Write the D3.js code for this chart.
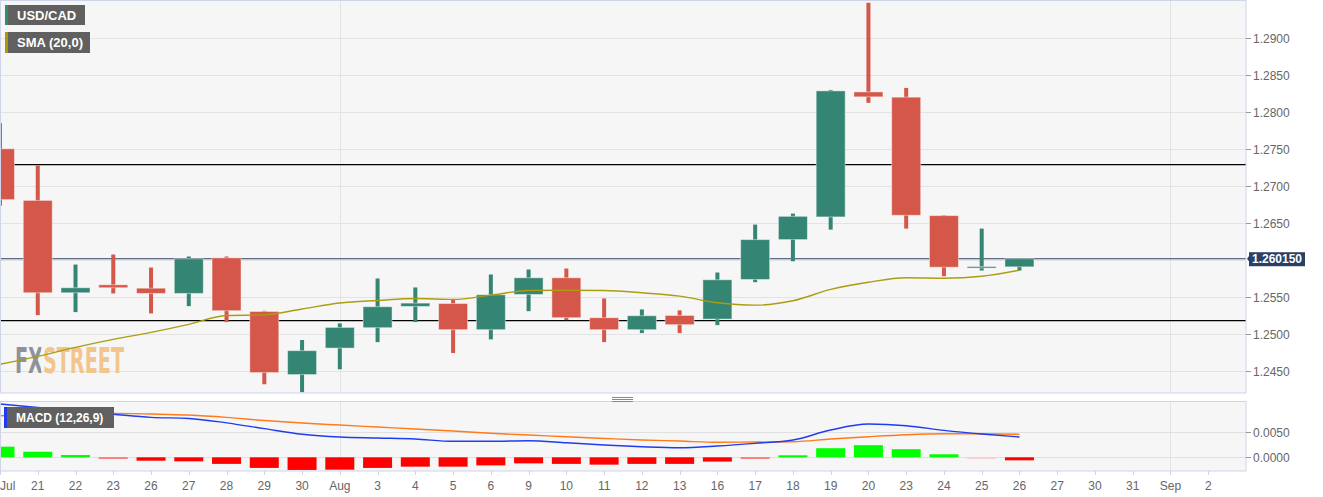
<!DOCTYPE html>
<html><head><meta charset="utf-8">
<script src="https://cdn.jsdelivr.net/npm/d3@7"></script>
<style>html,body{margin:0;padding:0;background:#fff;}svg{display:block;font-family:"Liberation Sans",Arial,sans-serif;}</style>
</head><body><svg id="c" width="1323" height="497"></svg>
<script>
const dates = ["Jul","21","22","23","26","27","28","29","30","Aug","3","4","5","6","9","10","11","12","13","16","17","18","19","20","23","24","25","26","27","30","31","Sep","2"];
const openV  = [1.27504,1.26805,1.25554,1.25662,1.25616,1.25545,1.26027,1.25301,1.24446,1.24805,1.25081,1.25369,1.25409,1.25054,1.25531,1.25757,1.25216,1.25054,1.25247,1.25197,1.25734,1.26274,1.26581,1.28274,1.28203,1.26599,1.25889,1.25905];
const highV  = [1.27851,1.27278,1.25936,1.26072,1.25896,1.26045,1.26045,1.25310,1.24914,1.25139,1.25747,1.25626,1.25464,1.25801,1.25869,1.25882,1.25477,1.25328,1.25315,1.25828,1.26477,1.26626,1.28301,1.29481,1.28328,1.26605,1.26423,1.26020];
const lowV   = [1.26734,1.25251,1.25292,1.25545,1.25274,1.25373,1.25157,1.24315,1.24207,1.24518,1.24886,1.25157,1.24738,1.24923,1.25305,1.25184,1.24886,1.25008,1.25008,1.25116,1.25697,1.25981,1.26409,1.28126,1.26423,1.25778,1.25855,1.25855];
const closeV = [1.26815,1.25554,1.25622,1.25622,1.25545,1.26014,1.25311,1.24473,1.24770,1.25085,1.25365,1.25414,1.25054,1.25527,1.25757,1.25216,1.25054,1.25243,1.25122,1.25730,1.26274,1.26589,1.28288,1.28207,1.26603,1.25900,1.25909,1.26015];
const sma20  = [1.24585,1.24693,1.24815,1.24923,1.25018,1.25126,1.25247,1.25254,1.25335,1.25416,1.25450,1.25477,1.25464,1.25522,1.25585,1.25589,1.25585,1.25554,1.25508,1.25419,1.25386,1.25446,1.25599,1.25697,1.25757,1.25751,1.25778,1.25859];
const macdLine   = [0.01052,0.00983,0.00916,0.00851,0.00789,0.00768,0.00681,0.00566,0.00456,0.00401,0.00381,0.00361,0.00316,0.00316,0.00328,0.00288,0.00243,0.00209,0.00189,0.00223,0.00276,0.00341,0.00539,0.00657,0.00624,0.00533,0.00460,0.00401];
const signalLine = [0.00821,0.00845,0.00868,0.00868,0.00855,0.00835,0.00789,0.00726,0.00677,0.00637,0.00598,0.00559,0.00519,0.00474,0.00440,0.00407,0.00373,0.00341,0.00322,0.00296,0.00302,0.00308,0.00361,0.00407,0.00446,0.00466,0.00466,0.00454];
const histV  = [0.0021,0.0011,0.00045,-0.0002,-0.00067,-0.0008,-0.0013,-0.0021,-0.0025,-0.00245,-0.0021,-0.00185,-0.00185,-0.0016,-0.0012,-0.0013,-0.00145,-0.0013,-0.0013,-0.00085,-0.0003,0.0004,0.0018,0.0024,0.0016,0.0006,-0.0002,-0.0006];
const histFade = [0,0,0,1,0,0,0,0,0,0,0,0,0,0,0,0,0,0,0,0,1,0,0,0,0,0,2,0];
const priceTicks = [1.245,1.25,1.255,1.265,1.27,1.275,1.28,1.285,1.29];
const priceGrid  = [1.245,1.25,1.255,1.26,1.265,1.27,1.275,1.28,1.285,1.29];
const levelLines = [1.27288,1.25176];
const lastPrice = 1.26015;
const macdTicks = [0,0.005];
const monthIdx = [9,31];

const svg = d3.select("#c");
const W = 1246;
const x = d3.scaleLinear().domain([0,33]).range([0,W]);
const y = d3.scaleLinear().domain([1.245,1.29]).range([370.6,38.3]);
const ym = d3.scaleLinear().domain([0,0.005]).range([457.3,432]);
const top1 = 1, bot1 = 393, top2 = 402, bot2 = 471;
const defs = svg.append("defs");
defs.append("clipPath").attr("id","cp1").append("rect").attr("x",0).attr("y",top1).attr("width",W).attr("height",bot1-top1);
defs.append("clipPath").attr("id","cp2").append("rect").attr("x",0).attr("y",top2).attr("width",W).attr("height",bot2-top2);
const grad = defs.append("linearGradient").attr("id","wmg").attr("gradientUnits","userSpaceOnUse")
  .attr("x1",15).attr("x2",124).attr("y1",0).attr("y2",0);
grad.append("stop").attr("offset",0.24).attr("stop-color","#8f929b");
grad.append("stop").attr("offset",0.24).attr("stop-color","#f2c58e");

svg.append("rect").attr("x",0).attr("y",top1).attr("width",W).attr("height",bot1-top1).attr("fill","#f6f6f6");
svg.append("rect").attr("x",0).attr("y",top2).attr("width",W).attr("height",bot2-top2).attr("fill","#f6f6f6");

const g1 = svg.append("g").attr("clip-path","url(#cp1)");
const g2 = svg.append("g").attr("clip-path","url(#cp2)");

g1.selectAll("line.hg").data(priceGrid).join("line").attr("x1",0).attr("x2",W)
  .attr("y1",d=>Math.round(y(d))+0.5).attr("y2",d=>Math.round(y(d))+0.5).attr("stroke","#e3e3e3").attr("stroke-width",1);
g1.selectAll("line.vg").data(monthIdx).join("line").attr("y1",top1).attr("y2",bot1)
  .attr("x1",d=>Math.round(x(d))+0.5).attr("x2",d=>Math.round(x(d))+0.5).attr("stroke","#e3e3e3");
g2.selectAll("line.hg").data(macdTicks).join("line").attr("x1",0).attr("x2",W)
  .attr("y1",d=>Math.round(ym(d))+0.5).attr("y2",d=>Math.round(ym(d))+0.5).attr("stroke","#e0e0e0");
g2.selectAll("line.vg").data(monthIdx).join("line").attr("y1",top2).attr("y2",bot2)
  .attr("x1",d=>Math.round(x(d))+0.5).attr("x2",d=>Math.round(x(d))+0.5).attr("stroke","#e3e3e3");

g1.append("text").attr("x",15).attr("y",373).attr("font-family","'Liberation Sans Narrow','DejaVu Sans Condensed',sans-serif")
  .attr("font-weight","bold").attr("font-size",36).attr("textLength",109).attr("lengthAdjust","spacingAndGlyphs")
  .attr("fill","url(#wmg)").text("FXSTREET");

g1.selectAll("line.lv").data(levelLines).join("line").attr("x1",0).attr("x2",W)
  .attr("y1",d=>y(d)).attr("y2",d=>y(d)).attr("stroke","#000").attr("stroke-width",1.3);
g1.append("line").attr("x1",0).attr("x2",W).attr("y1",y(lastPrice)).attr("y2",y(lastPrice)).attr("stroke","#2c3f61").attr("stroke-width",1.2);

const up = "#348574", dn = "#d4574a";
const idx = d3.range(openV.length);
const cg = g1.selectAll("g.c").data(idx).join("g");
cg.append("rect").attr("x",i=>x(i)-2).attr("width",4)
  .attr("y",i=>y(highV[i])).attr("height",i=>Math.max(1,y(lowV[i])-y(highV[i])))
  .attr("fill",i=>closeV[i]>=openV[i]?up:dn);
cg.append("rect").attr("x",i=>x(i)-14.5).attr("width",29)
  .attr("y",i=>y(Math.max(openV[i],closeV[i]))).attr("height",i=>Math.max(1.5,Math.abs(y(openV[i])-y(closeV[i]))))
  .attr("fill",i=>closeV[i]>=openV[i]?up:dn).attr("stroke","rgba(255,255,255,0.45)").attr("stroke-width",1);

g1.append("path").datum(sma20).attr("fill","none").attr("stroke","#ab9d10").attr("stroke-width",1.4)
  .attr("d",d3.line().x((d,i)=>x(i)).y(d=>y(d)).curve(d3.curveMonotoneX));

const fadeCol = (v,f)=> v>=0 ? (f? "#8ef58e":"#00ff00") : (f===2?"#f7c9cc":(f?"#ff6262":"#ff0000"));
g2.selectAll("rect.h").data(idx).join("rect").attr("x",i=>x(i)-14.5).attr("width",29)
  .attr("y",i=>Math.min(ym(0),ym(histV[i]))).attr("height",i=>Math.max(1.5,Math.abs(ym(histV[i])-ym(0))))
  .attr("fill",i=>fadeCol(histV[i],histFade[i]));
g2.append("path").datum(signalLine).attr("fill","none").attr("stroke","#ff7a1a").attr("stroke-width",1.4)
  .attr("d",d3.line().x((d,i)=>x(i)).y(d=>ym(d)).curve(d3.curveMonotoneX));
g2.append("path").datum(macdLine).attr("fill","none").attr("stroke","#1f3cf0").attr("stroke-width",1.4)
  .attr("d",d3.line().x((d,i)=>x(i)).y(d=>ym(d)).curve(d3.curveMonotoneX));

[[top1,bot1],[top2,bot2]].forEach(([t,b])=>{
  svg.append("rect").attr("x",0.5).attr("y",t-0.5).attr("width",W-0.5).attr("height",b-t+0.5)
    .attr("fill","none").attr("stroke","#cfd5e8").attr("stroke-width",1);
});

const axCol = "#666";
const ya = svg.append("g").attr("font-size",12).attr("fill",axCol);
priceTicks.forEach(v=>{
  const yy = Math.round(y(v))+0.5;
  ya.append("line").attr("x1",W).attr("x2",W+5).attr("y1",yy).attr("y2",yy).attr("stroke","#999");
  ya.append("text").attr("x",W+7).attr("y",yy+4).text(d3.format(".4f")(v));
});
macdTicks.forEach(v=>{
  const yy = Math.round(ym(v))+0.5;
  ya.append("line").attr("x1",W).attr("x2",W+5).attr("y1",yy).attr("y2",yy).attr("stroke","#999");
  ya.append("text").attr("x",W+7).attr("y",yy+4).text(d3.format(".4f")(v));
});

const py = y(lastPrice);
svg.append("path").attr("d",`M${W+1},${py} L${W+4},${py-4} L${W+4},${py+4} Z`).attr("fill","#2b4066");
svg.append("rect").attr("x",W+3).attr("y",py-6.5).attr("width",56).attr("height",14).attr("fill","#2b4066");
svg.append("text").attr("x",W+31).attr("y",py+4.5).attr("text-anchor","middle").attr("fill","#fff")
  .attr("font-size",12).attr("font-weight","bold").text(d3.format(".6f")(lastPrice));

const xa = svg.append("g").attr("font-size",12).attr("fill",axCol);
dates.forEach((d,i)=>{
  const xx = x(i);
  xa.append("line").attr("x1",Math.round(xx)+0.5).attr("x2",Math.round(xx)+0.5).attr("y1",bot2).attr("y2",bot2+4).attr("stroke","#cfd5e8");
  xa.append("text").attr("x",i===0?0:xx).attr("y",490).attr("text-anchor",i===0?"start":"middle").text(d);
});

[397,399,401].forEach(yy=>svg.append("line").attr("x1",612).attr("x2",633).attr("y1",yy+0.5).attr("y2",yy+0.5).attr("stroke","#888").attr("stroke-width",1));

function legend(x0,y0,w,h,col,txt,fs){
  svg.append("rect").attr("x",x0).attr("y",y0).attr("width",w).attr("height",h).attr("fill","#606060");
  svg.append("rect").attr("x",x0).attr("y",y0).attr("width",3).attr("height",h).attr("fill",col);
  svg.append("text").attr("x",x0+12).attr("y",y0+h/2+4.5).attr("fill","#fff").attr("font-weight","bold").attr("font-size",fs).text(txt);
}
legend(5,5,80,20,"#2e8b74","USD/CAD",13);
legend(5,32,85,21,"#a89a00","SMA (20,0)",13);
legend(4,407,110,21,"#1f3cf0","MACD (12,26,9)",12);
</script></body></html>
